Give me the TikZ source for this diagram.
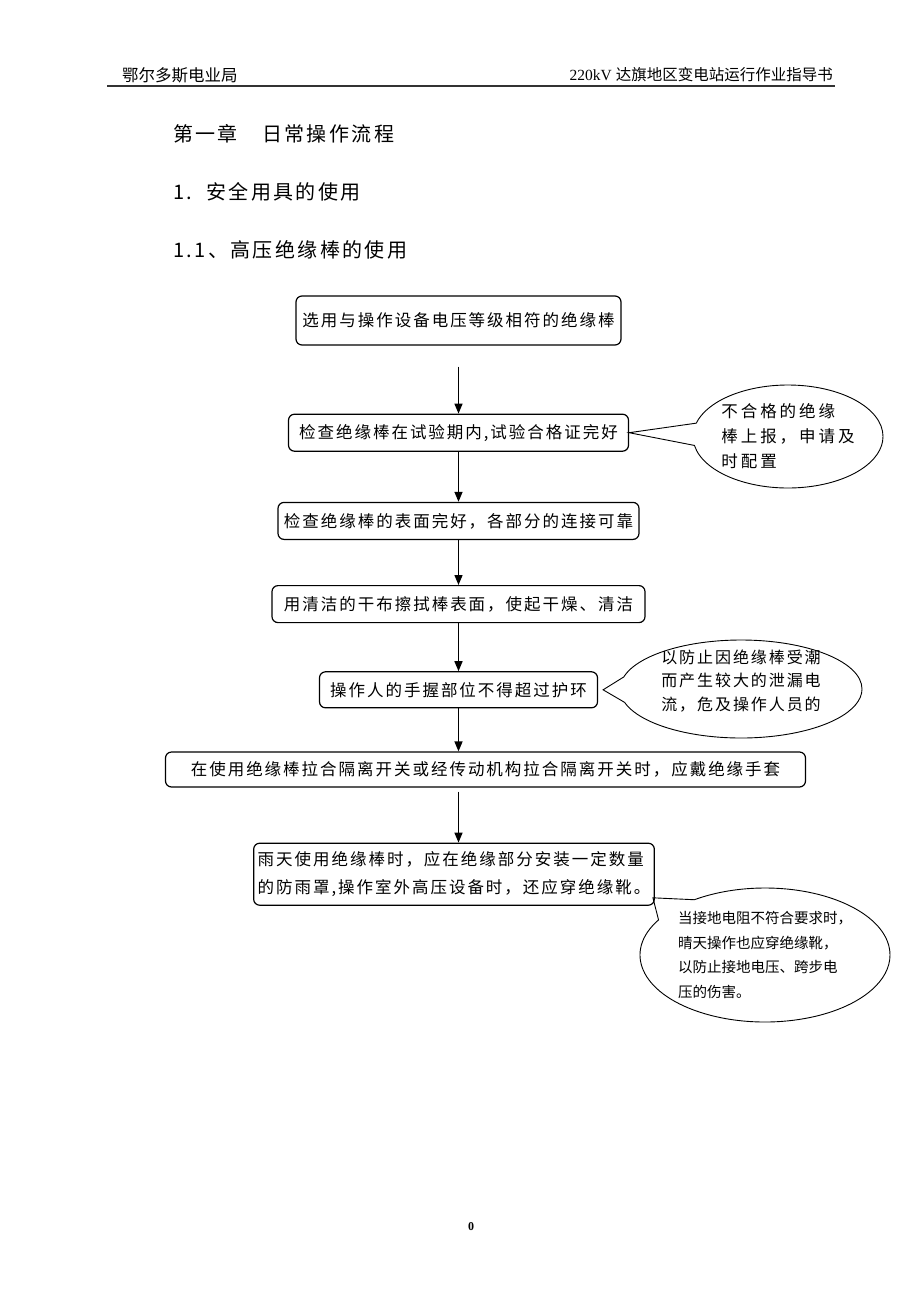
\documentclass[tikz,border=0pt]{standalone}
\usepackage{fontspec}
\setmainfont{Liberation Serif}
\newfontfamily\cjk{Noto Sans CJK SC}
\newfontfamily\cjkwide[LetterSpace=12]{Noto Sans CJK SC}
\newfontfamily\cjknote[LetterSpace=18]{Noto Sans CJK SC}
\newfontfamily\cjkhead[LetterSpace=12]{Noto Sans CJK SC}
\usepackage{tikz}
\usetikzlibrary{arrows.meta,positioning,shapes.callouts}
\tikzset{
  flowbox/.style={draw, rounded corners=6pt, line width=1.2pt, inner xsep=2pt, inner ysep=2pt, align=center, font=\cjkwide\fontsize{16.5}{22}\selectfont},
  note/.style={ellipse callout, draw, line width=0.9pt, inner sep=0pt},
  head/.style={anchor=west, inner sep=0pt, font=\cjkhead\fontsize{20}{22}\selectfont},
  arrow/.style={-{Triangle[length=10pt,width=8pt]}, line width=1.4pt},
}

\begin{document}
\begin{tikzpicture}[x=1pt,y=1pt]
\useasboundingbox (0,0) rectangle (920,-1302);
% page header
\node[anchor=west, inner sep=0pt, font=\cjk\fontsize{16.5}{18}\selectfont] (unit) at (122,-75) {鄂尔多斯电业局};
\node[anchor=east, inner sep=0pt, font=\fontsize{15.5}{18}\selectfont] (book) at (833,-75) {220kV {\cjk 达旗地区变电站运行作业指导书}};
\draw[line width=1.5pt, black!80] (107,-86) -- (835,-86);
% headings
\node[head] (chap) at (173,-134) {第一章\hspace{24pt}日常操作流程};
\node[head] (sec) at (173,-192) {1.\hspace{14pt}安全用具的使用};
\node[head] (subsec) at (173,-250) {1.1、高压绝缘棒的使用};
% flow steps
\node[flowbox, minimum width=325pt, minimum height=49pt] (pick) at (458.5,-320.5) {选用与操作设备电压等级相符的绝缘棒};
\node[flowbox, minimum width=340pt, minimum height=37pt, below=68pt of pick] (period) {检查绝缘棒在试验期内,试验合格证完好};
\node[flowbox, minimum width=361pt, minimum height=37pt, below=50pt of period] (surface) {检查绝缘棒的表面完好，各部分的连接可靠};
\node[flowbox, minimum width=373pt, minimum height=37pt, below=45pt of surface] (wipe) {用清洁的干布擦拭棒表面，使起干燥、清洁};
\node[flowbox, minimum width=278pt, minimum height=36pt, below=48pt of wipe] (grip) {操作人的手握部位不得超过护环};
\node[flowbox, minimum width=640pt, minimum height=35pt, below=43pt of grip, xshift=27pt] (switch) {在使用绝缘棒拉合隔离开关或经传动机构拉合隔离开关时，应戴绝缘手套};
\node[flowbox, minimum width=391pt, minimum height=62pt, inner xsep=4pt, align=left, font=\cjkwide\fontsize{16.5}{28}\selectfont, below=55pt of switch, xshift=-31.5pt] (rain) {雨天使用绝缘棒时，应在绝缘部分安装一定数量\\的防雨罩,操作室外高压设备时，还应穿绝缘靴。};
% remarks
\node[note, minimum width=190pt, minimum height=103pt, callout absolute pointer={(period.east)}, callout pointer arc=25,
  label={[align=left, font=\cjknote\fontsize{16.5}{25}\selectfont]center:不合格的绝缘\\棒上报，申请及\\时配置}] (report) at (788,-436.5) {};
\node[note, minimum width=242pt, minimum height=98pt, callout absolute pointer={([xshift=5pt]grip.east)}, callout pointer arc=30,
  label={[align=left, yshift=8pt, font=\cjkwide\fontsize{16}{23.5}\selectfont]center:以防止因绝缘棒受潮\\而产生较大的泄漏电\\流，危及操作人员的}] (damp) at (741,-689) {};
\node[note, minimum width=250pt, minimum height=134pt, callout absolute pointer={([xshift=-2pt,yshift=8pt]rain.south east)}, callout pointer arc=24,
  label={[align=left, font=\cjk\fontsize{14.5}{24.5}\selectfont]center:当接地电阻不符合要求时，\\晴天操作也应穿绝缘靴，\\以防止接地电压、跨步电\\压的伤害。}] (boots) at (765,-955) {};
% arrows
\draw[arrow, shorten <=21pt] (pick) -- (period);
\draw[arrow] (period) -- (surface);
\draw[arrow] (surface) -- (wipe);
\draw[arrow] (wipe) -- (grip);
\draw[arrow] (grip) -- (switch.north -| grip);
\draw[arrow, shorten <=4pt] (switch.south -| grip) -- (rain.north -| grip);
% page number
\node[font=\bfseries\fontsize{12}{14}\selectfont] (pageno) at (471,-1227) {0};
\end{tikzpicture}
\end{document}
